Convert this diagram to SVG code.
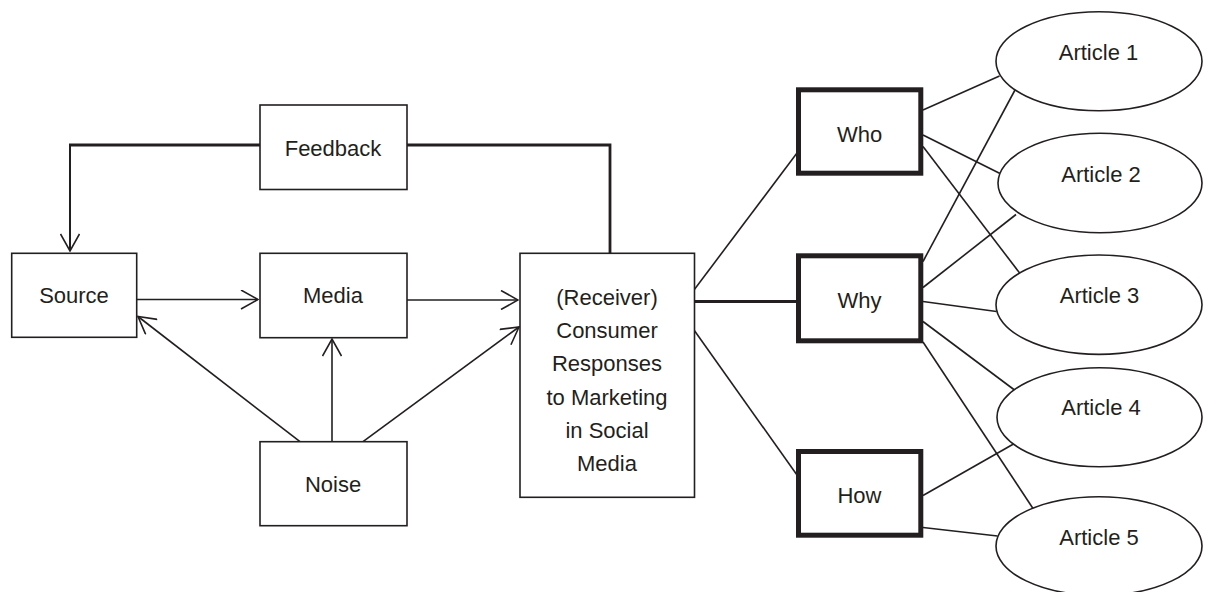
<svg xmlns="http://www.w3.org/2000/svg" width="1210" height="592" viewBox="0 0 1210 592">
<style>
  .box { fill: #fff; stroke: #231f20; stroke-width: 1.6; }
  .tbox { fill: #fff; stroke: #231f20; stroke-width: 5; }
  .ell { fill: #fff; stroke: #231f20; stroke-width: 1.6; }
  .ln { fill: none; stroke: #231f20; stroke-width: 1.6; }
  .th { fill: none; stroke: #231f20; stroke-width: 2.8; }
  .mid { fill: none; stroke: #231f20; stroke-width: 2; }
  text { font-family: "Liberation Sans", Arial, sans-serif; font-size: 22px; fill: #231f20; text-anchor: middle; }
</style>
<defs>
  <marker id="arr" viewBox="0 0 20 20" refX="19" refY="10" markerWidth="20" markerHeight="20" markerUnits="userSpaceOnUse" orient="auto">
    <path d="M2,0.5 L19,10 L2,19.5" fill="none" stroke="#231f20" stroke-width="1.6"/>
  </marker>
</defs>
<rect width="1210" height="592" fill="#fff"/>
<g id="connectors">
  <line class="th" x1="260" y1="145" x2="69" y2="145"/>
  <line class="mid" x1="70" y1="144" x2="70" y2="251" marker-end="url(#arr)"/>
  <polyline class="th" points="407,145 610,145 610,253"/>
  <line class="ln" x1="137" y1="299.5" x2="258" y2="299.5" marker-end="url(#arr)"/>
  <line class="ln" x1="407" y1="300" x2="518" y2="300" marker-end="url(#arr)"/>
  <line class="ln" x1="332" y1="441.7" x2="332" y2="339" marker-end="url(#arr)"/>
  <line class="ln" x1="300" y1="441.7" x2="138" y2="316.5" marker-end="url(#arr)"/>
  <line class="ln" x1="363" y1="441.7" x2="519" y2="327" marker-end="url(#arr)"/>
  <line class="ln" x1="694" y1="290" x2="797" y2="153"/>
  <line class="th" x1="694" y1="301.5" x2="797" y2="301.5"/>
  <line class="ln" x1="694" y1="330" x2="797" y2="475"/>
  <line class="ln" x1="923" y1="110" x2="999.5" y2="76"/>
  <line class="ln" x1="923" y1="135" x2="1000" y2="173.5"/>
  <line class="ln" x1="923" y1="146.5" x2="1020" y2="273.5"/>
  <line class="ln" x1="923" y1="261.5" x2="1015" y2="90"/>
  <line class="ln" x1="923" y1="287.5" x2="1016" y2="214.5"/>
  <line class="ln" x1="923" y1="301.5" x2="996.5" y2="311.5"/>
  <line class="ln" x1="923" y1="321.5" x2="1014.5" y2="390"/>
  <line class="ln" x1="923" y1="342" x2="1033" y2="508.5"/>
  <line class="ln" x1="923" y1="495.5" x2="1013.5" y2="444"/>
  <line class="ln" x1="923" y1="527.5" x2="997.5" y2="536"/>
</g>
<g id="feedback">
  <rect class="box" x="260" y="105" width="147" height="84.5"/>
  <text x="333" y="155.7">Feedback</text>
</g>
<g id="source">
  <rect class="box" x="11.7" y="253.3" width="125" height="84"/>
  <text x="74" y="303.3">Source</text>
</g>
<g id="media">
  <rect class="box" x="260" y="253.3" width="147" height="84.4"/>
  <text x="333" y="303.3">Media</text>
</g>
<g id="noise">
  <rect class="box" x="260" y="441.7" width="147" height="84"/>
  <text x="333" y="491.7">Noise</text>
</g>
<g id="receiver">
  <rect class="box" x="520" y="253.3" width="174.5" height="244"/>
  <text x="607" y="305">(Receiver)</text>
  <text x="607" y="338">Consumer</text>
  <text x="607" y="371">Responses</text>
  <text x="607" y="404.5">to Marketing</text>
  <text x="607" y="437.5">in Social</text>
  <text x="607" y="470.7">Media</text>
</g>
<g id="who">
  <rect class="tbox" x="798.5" y="89.8" width="122.3" height="83.4"/>
  <text x="859.5" y="141.7">Who</text>
</g>
<g id="why">
  <rect class="tbox" x="798.5" y="255.8" width="122.3" height="85"/>
  <text x="859.5" y="308.3">Why</text>
</g>
<g id="how">
  <rect class="tbox" x="798.5" y="451.5" width="122.3" height="83.7"/>
  <text x="859.5" y="503.3">How</text>
</g>
<g id="article1">
  <ellipse class="ell" cx="1099" cy="61.2" rx="103" ry="49.5"/>
  <text x="1098.5" y="60">Article 1</text>
</g>
<g id="article2">
  <ellipse class="ell" cx="1100" cy="183" rx="102" ry="49.7"/>
  <text x="1101" y="181.7">Article 2</text>
</g>
<g id="article3">
  <ellipse class="ell" cx="1099" cy="304.7" rx="103" ry="49.7"/>
  <text x="1099.5" y="303.3">Article 3</text>
</g>
<g id="article4">
  <ellipse class="ell" cx="1099.5" cy="417.2" rx="102.5" ry="49.5"/>
  <text x="1101" y="415">Article 4</text>
</g>
<g id="article5">
  <ellipse class="ell" cx="1099" cy="546" rx="103" ry="49.3"/>
  <text x="1099" y="545">Article 5</text>
</g>
</svg>
